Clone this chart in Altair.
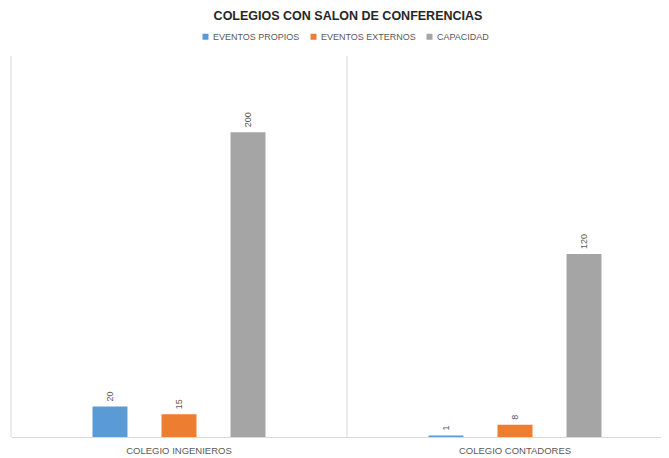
import altair as alt
import pandas as pd

colegios = ["COLEGIO INGENIEROS", "COLEGIO CONTADORES"]
series = ["EVENTOS PROPIOS", "EVENTOS EXTERNOS", "CAPACIDAD"]
propios = [20, 1]
externos = [15, 8]
capacidad = [200, 120]
colors = ["#5b9bd5", "#ed7d31", "#a5a5a5"]

rows = []
for i, c in enumerate(colegios):
    for s, vals in zip(series, [propios, externos, capacidad]):
        rows.append({"colegio": c, "serie": s, "valor": vals[i]})
df = pd.DataFrame(rows)
grid_df = pd.DataFrame({"colegio": colegios})

FONT = "Liberation Sans"
GRAY = "#595959"
LINE = "#d9d9d9"

xscale = alt.Scale(domain=colegios, range=[0, 672], paddingInner=0, paddingOuter=0)
xoff = alt.Scale(domain=series, range=[81.5, 254.5], paddingInner=0.493, paddingOuter=0)
yscale = alt.Scale(domain=[0, 250], nice=False, zero=True)

base = alt.Chart(df)

bars = base.mark_bar(stroke=None).encode(
    x=alt.X("colegio:N", scale=xscale, sort=colegios,
            axis=alt.Axis(title=None, ticks=False, domainColor=LINE, domainWidth=1,
                          labelFont=FONT, labelFontSize=9.5, labelColor=GRAY,
                          labelAlign="center", labelBaseline="top",
                          labelPadding=8, labelAngle=0, grid=False)),
    xOffset=alt.XOffset("serie:N", scale=xoff, sort=series),
    y=alt.Y("valor:Q", scale=yscale, axis=None),
    color=alt.Color("serie:N", scale=alt.Scale(domain=series, range=colors), sort=series,
                    legend=alt.Legend(title=None, orient="none", direction="horizontal",
                                      legendX=190, legendY=-24, symbolType="square",
                                      symbolSize=36, symbolStrokeWidth=0,
                                      labelFont=FONT, labelFontSize=9, labelColor=GRAY,
                                      labelOffset=3, columnPadding=9)),
)

labels = base.mark_text(angle=270, align="left", baseline="middle", dx=5,
                        font=FONT, fontSize=9, color=GRAY).encode(
    x=alt.X("colegio:N", scale=xscale, sort=colegios),
    xOffset=alt.XOffset("serie:N", scale=xoff, sort=series),
    y=alt.Y("valor:Q", scale=yscale),
    text=alt.Text("valor:Q"),
)

grid = alt.Chart(grid_df).mark_rule(color=LINE, strokeWidth=1).encode(
    x=alt.X("colegio:N", scale=xscale, sort=colegios, bandPosition=0),
)

chart = alt.layer(grid, bars, labels).properties(
    width=650, height=381,
    autosize=alt.AutoSizeParams(type="none"),
    padding={"left": 3, "top": 48, "right": 0, "bottom": 20},
    title=alt.TitleParams("COLEGIOS CON SALON DE CONFERENCIAS", font=FONT, fontSize=12.5,
                          fontWeight="bold", color="#262626", anchor="middle",
                          offset=10, dx=12),
).configure_view(stroke=None)

chart.save("out.html", embed_options={"renderer": "svg", "actions": False})
